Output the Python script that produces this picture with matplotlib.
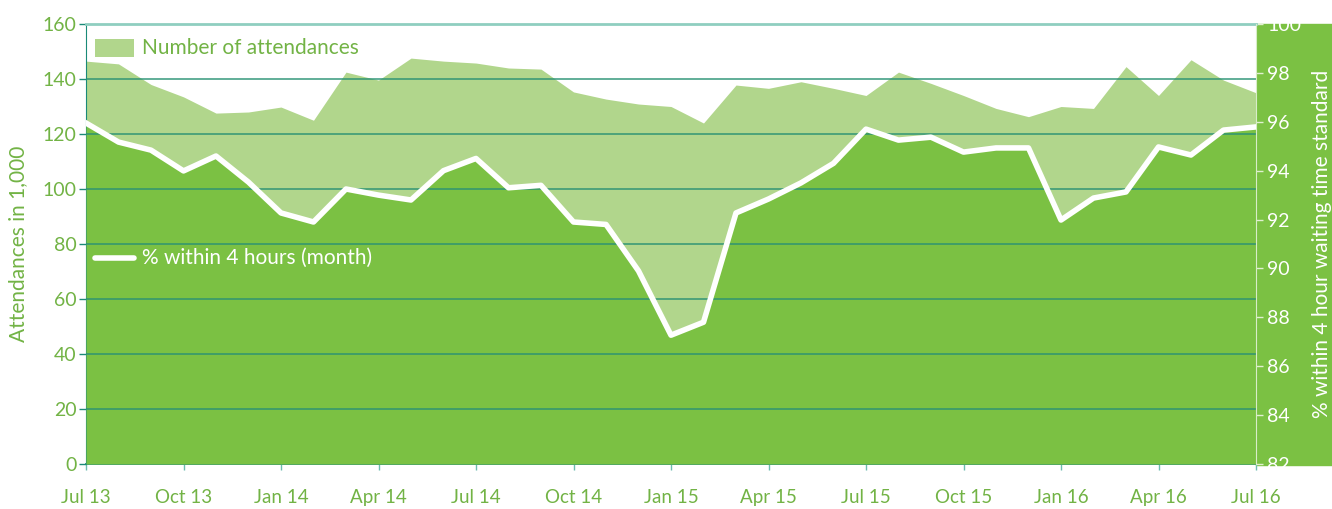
import matplotlib.pyplot as plt
from matplotlib.patches import Rectangle
from matplotlib.lines import Line2D

# monthly data, Jul 13 .. Jul 16
months = list(range(37))
attendances = [146.5, 145.5, 138.0, 133.5, 127.6, 128.0, 129.8, 125.0, 142.5, 139.6,
               147.6, 146.5, 145.8, 144.0, 143.6, 135.3, 132.7, 130.9, 130.0, 124.0,
               137.8, 136.6, 139.0, 136.6, 134.0, 142.5, 138.4, 134.0, 129.3, 126.3,
               130.0, 129.3, 144.5, 134.0, 147.0, 139.6, 135.0]
pct_4h = [95.95, 95.17, 94.84, 93.99, 94.60, 93.53, 92.27, 91.90, 93.25, 93.00,
          92.80, 94.00, 94.50, 93.30, 93.40, 91.90, 91.80, 89.90, 87.27, 87.80,
          92.27, 92.84, 93.50, 94.30, 95.70, 95.25, 95.37, 94.76, 94.93, 94.93,
          91.98, 92.88, 93.13, 94.97, 94.64, 95.66, 95.79]
tick_pos = list(range(0, 37, 3))
tick_labels = ['Jul 13', 'Oct 13', 'Jan 14', 'Apr 14', 'Jul 14', 'Oct 14', 'Jan 15',
               'Apr 15', 'Jul 15', 'Oct 15', 'Jan 16', 'Apr 16', 'Jul 16']

plt.rcParams['font.family'] = ['Lato', 'DejaVu Sans']

dark = '#7bc143'
light = '#b1d68c'
txt = '#72b345'
grid_c = '#2a9274'

fig = plt.figure(figsize=(13.32, 5.09), dpi=100)
ax = fig.add_axes([86 / 1332, 45 / 509, 1170 / 1332, 440 / 509])
ax2 = ax.twinx()

# green band behind right axis
fig.patches.append(Rectangle((1256 / 1332, 44 / 509), 76 / 1332, 441 / 509,
                             transform=fig.transFigure, color=dark, zorder=-5))

ax.fill_between(months, 0, attendances, color=light, lw=0)
ax.set_xlim(0, 36)
ax.set_ylim(0, 160)
ax.set_yticks(range(0, 161, 20))
ax.set_xticks(tick_pos)
ax.set_xticklabels(tick_labels)

ax2.set_ylim(82, 100)
ax2.set_yticks(range(82, 101, 2))
ax2.fill_between(months, 82, pct_4h, color=dark, lw=0, zorder=1)

# gridlines above the fills
for v in range(20, 141, 20):
    ax2.plot([0, 36], [v, v], color=grid_c, lw=1.3, alpha=0.8, transform=ax.transData, zorder=2)
ax2.plot([0, 36], [160, 160], color='#8fcec0', lw=2, transform=ax.transData, zorder=2, clip_on=False)

ax2.plot(months, pct_4h, color='white', lw=4, solid_joinstyle='round', zorder=3)

for a in (ax, ax2):
    a.spines['top'].set_visible(False)
ax.spines['left'].set_color('#1a8a78')
ax.spines['bottom'].set_color('#1a8a78')
ax.spines['bottom'].set_linewidth(1.3)
ax.spines['right'].set_visible(False)
ax2.spines['left'].set_visible(False)
ax2.spines['bottom'].set_visible(False)
ax2.spines['right'].set_color('#d8ecc8')

ax.tick_params(axis='y', colors=txt, labelsize=14, length=5, width=1, color='#1a8a78', pad=2)
ax.tick_params(axis='x', colors=txt, labelsize=13.5, length=4, width=1, color='#6cbcb0', pad=14)
ax2.tick_params(axis='y', colors='white', labelsize=14, length=5, width=1, color='#e0f0d0', pad=3)

ax.set_ylabel('Attendances in 1,000', color=txt, fontsize=15, labelpad=10)
ax2.set_ylabel('% within 4 hour waiting time standard', color='white', fontsize=15, labelpad=8)

# legend entries
ax.add_patch(Rectangle((0.008, 0.925), 0.033, 0.04, transform=ax.transAxes,
                       color=light, lw=0, zorder=5, clip_on=False))
ax.text(0.048, 0.945, 'Number of attendances', transform=ax.transAxes, color=txt,
        fontsize=15, va='center', zorder=5)
ax2.add_artist(Line2D([0.008, 0.041], [0.469, 0.469], transform=ax.transAxes,
                      color='white', lw=4, solid_capstyle='round', zorder=5))
ax2.text(0.048, 0.469, '% within 4 hours (month)', transform=ax.transAxes, color='white',
         fontsize=15, va='center', zorder=5)

fig.savefig('out.png', dpi=100)
